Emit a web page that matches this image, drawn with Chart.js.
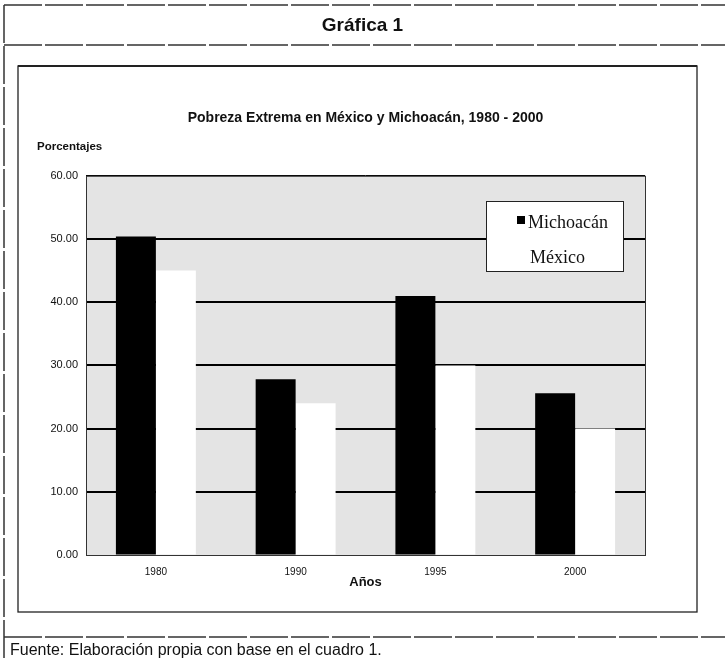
<!DOCTYPE html>
<html>
<head>
<meta charset="utf-8">
<script src="https://cdn.jsdelivr.net/npm/chart.js@4/dist/chart.umd.min.js"></script>
<style>
  html, body { margin: 0; padding: 0; background: #fff; }
  #wrap { position: relative; width: 725px; height: 661px; overflow: hidden; }
  #c { position: absolute; left: 0; top: 0; }
  .txt { position: absolute; font-family: Arial, "Liberation Sans", sans-serif; color: #111; white-space: nowrap; }
  #head { left: 0; width: 725px; top: 14px; text-align: center; font-weight: bold; font-size: 19px; }
  #src { left: 10px; top: 641px; font-size: 16px; }
</style>
</head>
<body>
<div id="wrap">
  <canvas id="c" width="725" height="661"></canvas>
  <div class="txt" id="head">Gráfica 1</div>
  <div class="txt" id="src">Fuente: Elaboración propia con base en el cuadro 1.</div>
</div>
<script>
const categories = ['1980', '1990', '1995', '2000'];
const michoacan = [50.4, 27.8, 41.0, 25.6];
const mexico = [45.0, 24.0, 30.0, 20.0];
const yTicks = [0, 10, 20, 30, 40, 50, 60];
const seriesNames = ['Michoacán', 'México'];
const chartTitle = 'Pobreza Extrema en México y Michoacán, 1980 - 2000';
const yLabel = 'Porcentajes';
const xLabel = 'Años';

const framePlugin = {
  id: 'frame',
  beforeDraw(chart) {
    const ctx = chart.ctx;
    const a = chart.chartArea;
    ctx.save();
    // outer frame
    ctx.strokeStyle = '#333';
    ctx.lineWidth = 1.5;
    ctx.setLineDash([38, 3]);
    ctx.beginPath();
    ctx.moveTo(4, 5); ctx.lineTo(725, 5);
    ctx.moveTo(4, 45); ctx.lineTo(725, 45);
    ctx.moveTo(4, 637); ctx.lineTo(725, 637);
    ctx.moveTo(4, 5); ctx.lineTo(4, 661);
    ctx.stroke();
    ctx.setLineDash([]);
    // inner chart box
    ctx.strokeStyle = '#222';
    ctx.lineWidth = 1.3;
    ctx.strokeRect(18, 66, 679, 546);
    ctx.lineWidth = 2;
    ctx.beginPath(); ctx.moveTo(18, 66); ctx.lineTo(697, 66); ctx.stroke();
    // plot background
    ctx.fillStyle = '#e4e4e4';
    ctx.fillRect(a.left, a.top, a.right - a.left, a.bottom - a.top);
    ctx.restore();
  },
  afterDraw(chart) {
    const ctx = chart.ctx;
    const a = chart.chartArea;
    ctx.save();
    // plot border
    ctx.strokeStyle = '#333';
    ctx.lineWidth = 1;
    ctx.strokeRect(a.left + 0.5, a.top + 0.5, a.right - a.left, a.bottom - a.top);
    // y label
    ctx.fillStyle = '#111';
    ctx.font = 'bold 11.5px Arial, "Liberation Sans", sans-serif';
    ctx.textAlign = 'left';
    ctx.textBaseline = 'middle';
    ctx.fillText(yLabel, 37, 147);
    // legend
    const lx = 486, ly = 201, lw = 137, lh = 70;
    ctx.fillStyle = '#fff';
    ctx.fillRect(lx, ly, lw, lh);
    ctx.strokeStyle = '#222';
    ctx.lineWidth = 1;
    ctx.strokeRect(lx + 0.5, ly + 0.5, lw, lh);
    ctx.fillStyle = '#000';
    ctx.fillRect(517, 216, 8, 8);
    ctx.font = '18px "Times New Roman", "Liberation Serif", serif';
    ctx.fillStyle = '#111';
    ctx.fillText(seriesNames[0], 528, 223);
    ctx.fillText(seriesNames[1], 530, 258);
    ctx.restore();
  }
};

new Chart(document.getElementById('c'), {
  type: 'bar',
  data: {
    labels: categories,
    datasets: [
      { label: seriesNames[0], data: michoacan, backgroundColor: '#000', borderWidth: 0 },
      { label: seriesNames[1], data: mexico, backgroundColor: '#fff', borderWidth: 0 }
    ]
  },
  options: {
    responsive: false,
    animation: false,
    events: [],
    layout: { autoPadding: false, padding: { left: 0, right: 80, top: 0, bottom: 0 } },
    datasets: { bar: { categoryPercentage: 0.572, barPercentage: 1.0 } },
    plugins: {
      legend: { display: false },
      tooltip: { enabled: false },
      title: {
        display: true,
        fullSize: false,
        text: chartTitle,
        color: '#111',
        font: { family: 'Arial, "Liberation Sans", sans-serif', size: 14, weight: 'bold', lineHeight: 1.2 },
        padding: { top: 110, bottom: 49 }
      }
    },
    scales: {
      x: {
        grid: { display: false, drawTicks: false },
        border: { display: false },
        ticks: { color: '#111', font: { family: 'Arial, "Liberation Sans", sans-serif', size: 10 }, padding: 11, maxRotation: 0 },
        title: {
          display: true, text: xLabel, color: '#111',
          font: { family: 'Arial, "Liberation Sans", sans-serif', size: 13, weight: 'bold', lineHeight: 1.2 },
          padding: { top: 71, bottom: 71 }
        },
        afterFit(s) { s.height = 106; }
      },
      y: {
        min: 0, max: 60,
        afterBuildTicks(s) { s.ticks = yTicks.map(v => ({ value: v })); },
        grid: {
          drawTicks: false,
          color: '#000',
          lineWidth: c => (c.tick && (c.tick.value === 0 || c.tick.value === 60)) ? 1 : 2
        },
        border: { display: false },
        ticks: {
          color: '#111', padding: 8,
          font: { family: 'Arial, "Liberation Sans", sans-serif', size: 11 },
          callback: v => Number(v).toFixed(2)
        },
        afterFit(s) { s.width = 86; }
      }
    }
  },
  plugins: [framePlugin]
});
</script>
</body>
</html>
